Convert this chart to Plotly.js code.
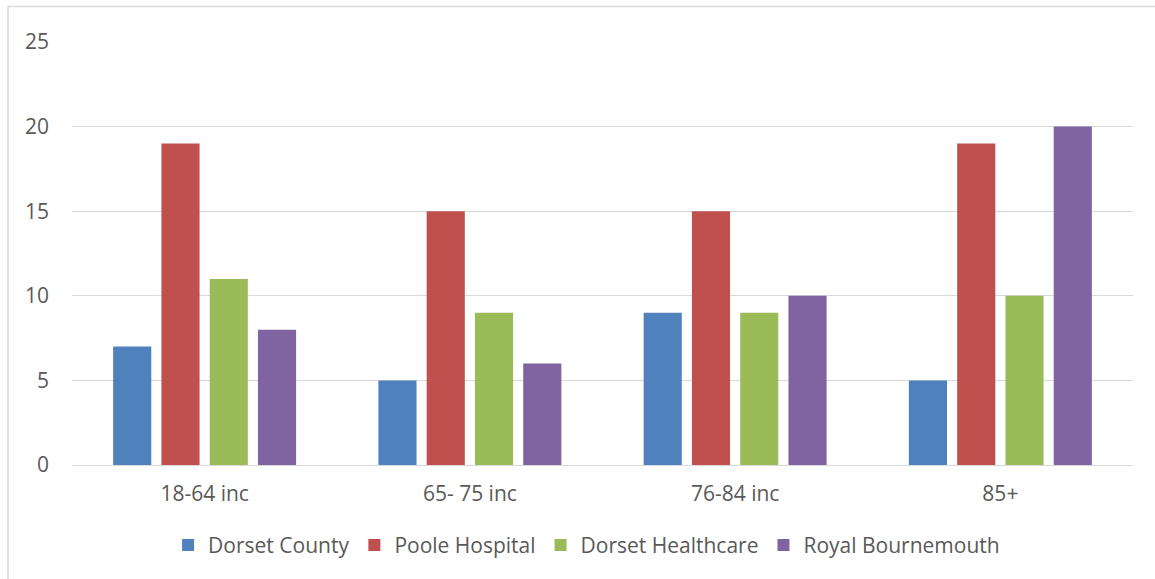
<!DOCTYPE html>
<html>
<head>
<meta charset="utf-8">
<script src="https://cdn.plot.ly/plotly-3.0.1.min.js"></script>
<style>
  html, body { margin: 0; padding: 0; background: #fff; }
  #chart { width: 1155px; height: 579px; }
</style>
</head>
<body>
<div id="chart"></div>
<script>
// Age bands on the category axis
const ageBands = ['18-64 inc', '65- 75 inc', '76-84 inc', '85+'];

// One series per organisation
const dorsetCounty = [7, 5, 9, 5];
const pooleHospital = [19, 15, 15, 19];
const dorsetHealthcare = [11, 9, 9, 10];
const royalBournemouth = [8, 6, 10, 20];

const seriesNames = ['Dorset County', 'Poole Hospital', 'Dorset Healthcare', 'Royal Bournemouth'];
const seriesValues = [dorsetCounty, pooleHospital, dorsetHealthcare, royalBournemouth];
const seriesColors = ['#4F81BD', '#C0504D', '#9BBB59', '#8064A2'];

const fontFamily = 'Open Sans, Noto Sans, sans-serif';

const traces = seriesNames.map((name, i) => ({
  type: 'bar',
  name: name,
  x: ageBands,
  y: seriesValues[i],
  marker: { color: seriesColors[i], line: { width: 0 } },
  hoverinfo: 'x+y+name'
}));

const layout = {
  width: 1155,
  height: 579,
  margin: { l: 72, r: 22, t: 42, b: 114 },
  paper_bgcolor: '#ffffff',
  plot_bgcolor: '#ffffff',
  barmode: 'group',
  bargap: 0.272,
  bargroupgap: 0.21,
  font: { family: fontFamily, color: '#595959', size: 21 },
  xaxis: {
    type: 'category',
    showgrid: false,
    showline: false,
    zeroline: false,
    ticks: '',
    tickfont: { size: 21, color: '#595959' },
    ticklabelstandoff: 14
  },
  yaxis: {
    range: [0, 25],
    tickvals: [0, 5, 10, 15, 20, 25],
    showgrid: true,
    gridcolor: '#D9D9D9',
    gridwidth: 1,
    zeroline: true,
    zerolinecolor: '#D9D9D9',
    zerolinewidth: 1,
    showline: false,
    ticks: '',
    tickfont: { size: 21, color: '#595959' },
    ticklabelstandoff: 22
  },
  legend: {
    orientation: 'h',
    x: 0.485,
    xanchor: 'center',
    y: -0.19,
    yanchor: 'middle',
    font: { size: 21, color: '#595959' },
    itemclick: false,
    traceorder: 'normal'
  },
  shapes: [{
    type: 'rect',
    xref: 'paper', yref: 'paper',
    x0: (8 - 72) / 1061, x1: (1170 - 72) / 1061,
    y0: (465 - 600) / 423, y1: (465 - 6.5) / 423,
    line: { color: '#D9D9D9', width: 1.5 },
    fillcolor: 'rgba(0,0,0,0)',
    layer: 'below'
  }]
};

Plotly.newPlot('chart', traces, layout, { displayModeBar: false, staticPlot: true });
</script>
</body>
</html>
